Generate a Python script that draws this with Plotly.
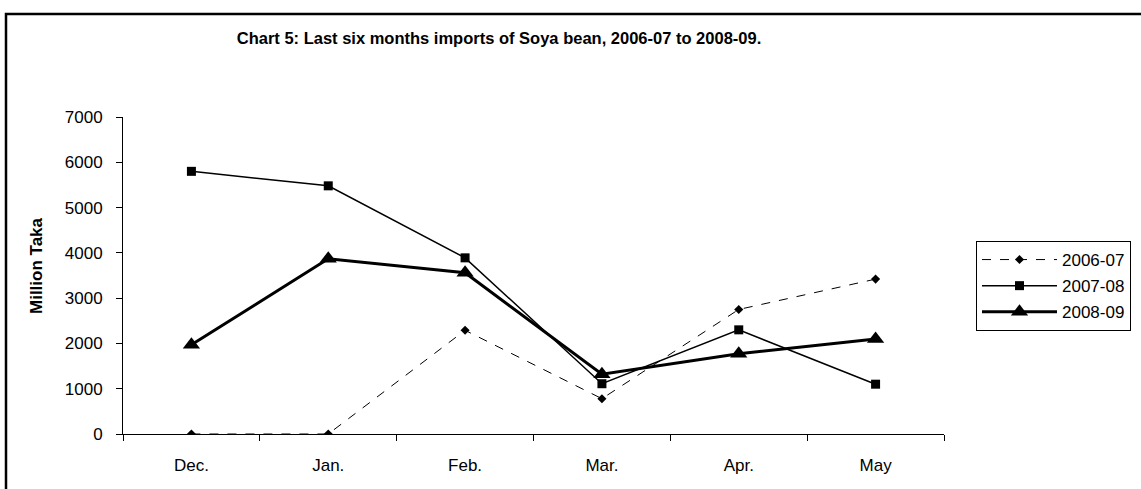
import plotly.graph_objects as go

months = ["Dec.", "Jan.", "Feb.", "Mar.", "Apr.", "May"]
s_2006_07 = [0, 0, 2290, 780, 2750, 3420]
s_2007_08 = [5800, 5480, 3890, 1110, 2300, 1100]
s_2008_09 = [1970, 3870, 3560, 1320, 1770, 2100]
y_ticks = [0, 1000, 2000, 3000, 4000, 5000, 6000, 7000]

W, H = 1141, 489
PX0, PX1, PY0, PY1 = 123, 944, 117, 434
L, R, T, B = PX0, W - PX1, PY0, H - PY1
pw, ph = PX1 - PX0, PY1 - PY0

def px_x(x):
    return (x - PX0) / pw

def px_y(y):
    return (PY1 - y) / ph

fig = go.Figure()
fig.add_trace(go.Scatter(x=months, y=s_2006_07, name="2006-07", mode="lines+markers",
                         legendgroup="a",
                         line=dict(color="black", width=1, dash="dash"),
                         marker=dict(symbol="diamond", size=7, color="black")))
fig.add_trace(go.Scatter(x=months, y=s_2007_08, name="2007-08", mode="lines+markers",
                         legendgroup="b",
                         line=dict(color="black", width=1.5),
                         marker=dict(symbol="square", size=9, color="black")))
fig.add_trace(go.Scatter(x=months, y=s_2008_09, name="2008-09", mode="lines+markers",
                         legendgroup="c",
                         line=dict(color="black", width=3),
                         marker=dict(symbol="triangle-up", size=15, color="black")))

font_family = "Liberation Sans, Arial, sans-serif"

fig.update_layout(
    width=W, height=H,
    margin=dict(l=L, r=R, t=T, b=B, autoexpand=False),
    paper_bgcolor="white", plot_bgcolor="white",
    font=dict(family=font_family, size=17, color="black"),
    title=dict(text="<b>Chart 5: Last six months imports of Soya bean, 2006-07 to 2008-09.</b>",
               font=dict(size=16.5, family=font_family, color="black"),
               x=px_x(499), xref="paper", xanchor="center",
               y=(H - 38) / H, yref="container", yanchor="middle"),
    xaxis=dict(type="category", categoryorder="array", categoryarray=months,
               showline=True, linecolor="black", linewidth=1, showgrid=False,
               ticks="outside", tickson="boundaries", ticklen=6, tickcolor="black",
               ticklabelstandoff=16, zeroline=False,
               range=[-0.5, 5.5]),
    yaxis=dict(range=[0, 7000], tickvals=y_ticks, showline=True, linecolor="black",
               linewidth=1, showgrid=False, ticks="outside", ticklen=6, tickcolor="black",
               ticklabelstandoff=10, zeroline=False),
    legend=dict(x=px_x(976), y=px_y(241), xanchor="left", yanchor="top",
                bordercolor="black", borderwidth=1, bgcolor="white",
                font=dict(size=17, family=font_family), tracegroupgap=1,
                itemwidth=75),
    showlegend=True,
)

fig.add_annotation(text="<b>Million Taka</b>", textangle=-90, xref="paper", yref="paper",
                   x=px_x(36), y=px_y(266), xanchor="center", yanchor="middle",
                   showarrow=False, font=dict(size=17, family=font_family, color="black"))

fig.add_shape(type="rect", xref="paper", yref="paper",
              x0=px_x(6), x1=px_x(1200), y0=px_y(14), y1=px_y(560),
              line=dict(color="black", width=2.5), fillcolor="rgba(0,0,0,0)", layer="above")

fig.write_html("out.html", config={"displayModeBar": False},
               post_script="document.body.style.margin='0';document.body.style.padding='0';")
